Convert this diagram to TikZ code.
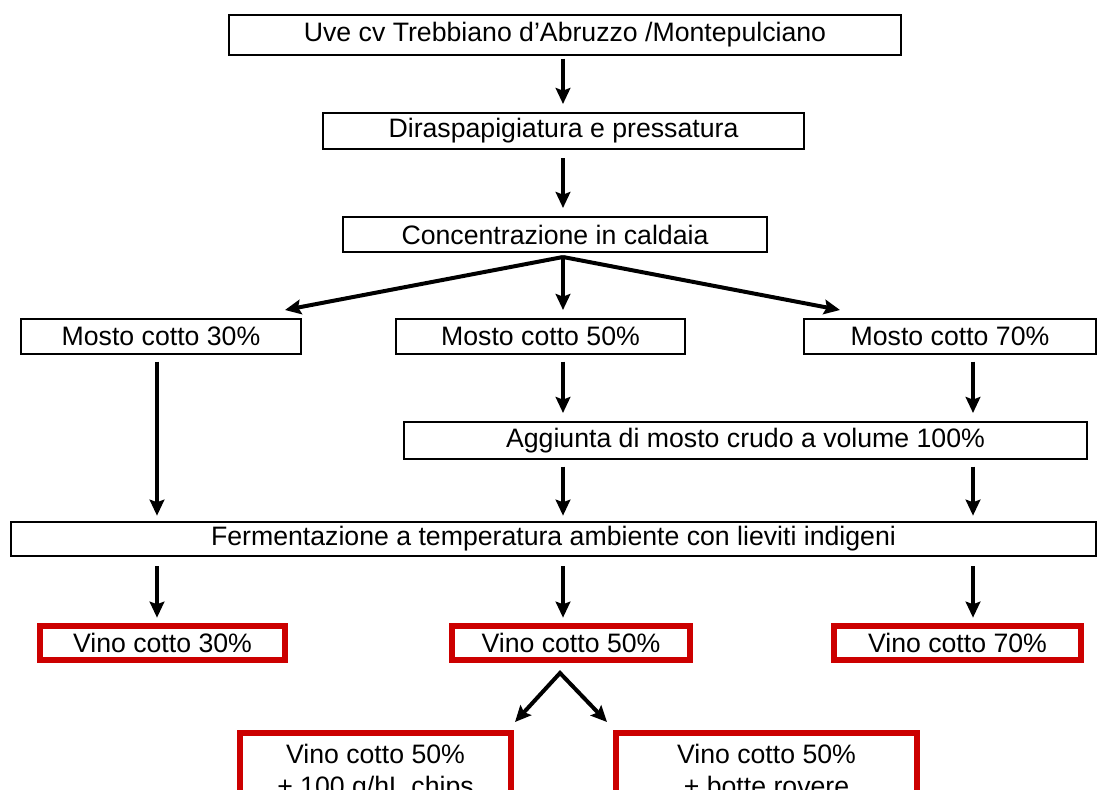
\documentclass[tikz,border=0pt]{standalone}
\usepackage{fontspec}
\setmainfont{Liberation Sans}
\usetikzlibrary{arrows.meta,calc}
\definecolor{boxred}{HTML}{CC0000}
\begin{document}
\begin{tikzpicture}[x=0.75pt,y=-0.75pt,
  bx/.style n args={2}{draw=black, line width=1.5pt, inner sep=0pt,
     minimum width=#1*0.75pt, minimum height=#2*0.75pt,
     font=\fontsize{20}{24}\selectfont},
  rbx/.style n args={2}{draw=boxred, line width=4.5pt, inner sep=0pt,
     minimum width=#1*0.75pt, minimum height=#2*0.75pt,
     font=\fontsize{20}{24}\selectfont},
  arr/.style={line width=3pt, -{Stealth[length=12pt,width=11pt,inset=2pt]}},
  arrtwo/.style={line width=3pt, line join=miter,
     {Stealth[length=12pt,width=11pt,inset=2pt]}-{Stealth[length=12pt,width=11pt,inset=2pt]}},
]
\clip (0,0) rectangle (1099,789);
\fill[white] (0,0) rectangle (1099,789);

\coordinate (cL) at (157,0);
\coordinate (cM) at (563,0);
\coordinate (cR) at (973,0);

\node[bx={672}{40}] (top) at (565,35) {Uve cv Trebbiano d’Abruzzo /Montepulciano};
\node[bx={481}{36}] (dir) at (563.5,131) {Diraspapigiatura e pressatura};
\node[bx={424}{35}] (conc) at (555,234.5) {Concentrazione in caldaia};
\node[bx={280}{35}] (m30) at (161,336.5) {Mosto cotto 30\%};
\node[bx={289}{35}] (m50) at (540.5,336.5) {Mosto cotto 50\%};
\node[bx={292}{35}] (m70) at (950,336.5) {Mosto cotto 70\%};
\node[bx={683}{37}] (agg) at (745.5,440.5) {Aggiunta di mosto crudo a volume 100\%};
\node[bx={1085}{34}] (ferm) at (553.5,539) {Fermentazione a temperatura ambiente con lieviti indigeni};
\node[rbx={245}{34}] (v30) at (162.5,643) {Vino cotto 30\%};
\node[rbx={238}{34}] (v50) at (571,643) {Vino cotto 50\%};
\node[rbx={247}{34}] (v70) at (957.5,643) {Vino cotto 70\%};
\node[rbx={271}{80}, align=center, anchor=north] (b1) at (375.5,730) {\strut Vino cotto 50\%\\\strut + 100 g/hL chips};
\node[rbx={301}{80}, align=center, anchor=north] (b2) at (766.5,730) {\strut Vino cotto 50\%\\\strut + botte rovere};

\draw[arr, shorten <=2pt, shorten >=6pt] (top.south -| cM) -- (dir.north -| cM);
\draw[arr, shorten <=6pt, shorten >=6pt] (dir.south -| cM) -- (conc.north -| cM);

\coordinate (split) at ($(conc.south -| cM)+(0,4)$);
\draw[arr] (split) -- ($(m30.north east)+(-17,-8)$);
\draw[arr, shorten >=6pt] (split) -- (m50.north -| cM);
\draw[arr] (split) -- ($(m70.north west)+(37,-8)$);

\draw[arr, shorten <=5pt, shorten >=4pt] (m30.south -| cL) -- (ferm.north -| cL);
\draw[arr, shorten <=5pt, shorten >=6pt] (m50.south -| cM) -- (agg.north -| cM);
\draw[arr, shorten <=5pt, shorten >=6pt] (m70.south -| cR) -- (agg.north -| cR);
\draw[arr, shorten <=5pt, shorten >=4pt] (agg.south -| cM) -- (ferm.north -| cM);
\draw[arr, shorten <=5pt, shorten >=4pt] (agg.south -| cR) -- (ferm.north -| cR);

\draw[arr, shorten <=7pt, shorten >=4pt] (ferm.south -| cL) -- (v30.north -| cL);
\draw[arr, shorten <=7pt, shorten >=4pt] (ferm.south -| cM) -- (v50.north -| cM);
\draw[arr, shorten <=7pt, shorten >=4pt] (ferm.south -| cR) -- (v70.north -| cR);

\coordinate (split2) at (560,673);
\draw[arrtwo] ($(b1.north east)+(1,-8)$) -- (split2) -- ($(b2.north west)+(-6,-8)$);
\end{tikzpicture}
\end{document}
